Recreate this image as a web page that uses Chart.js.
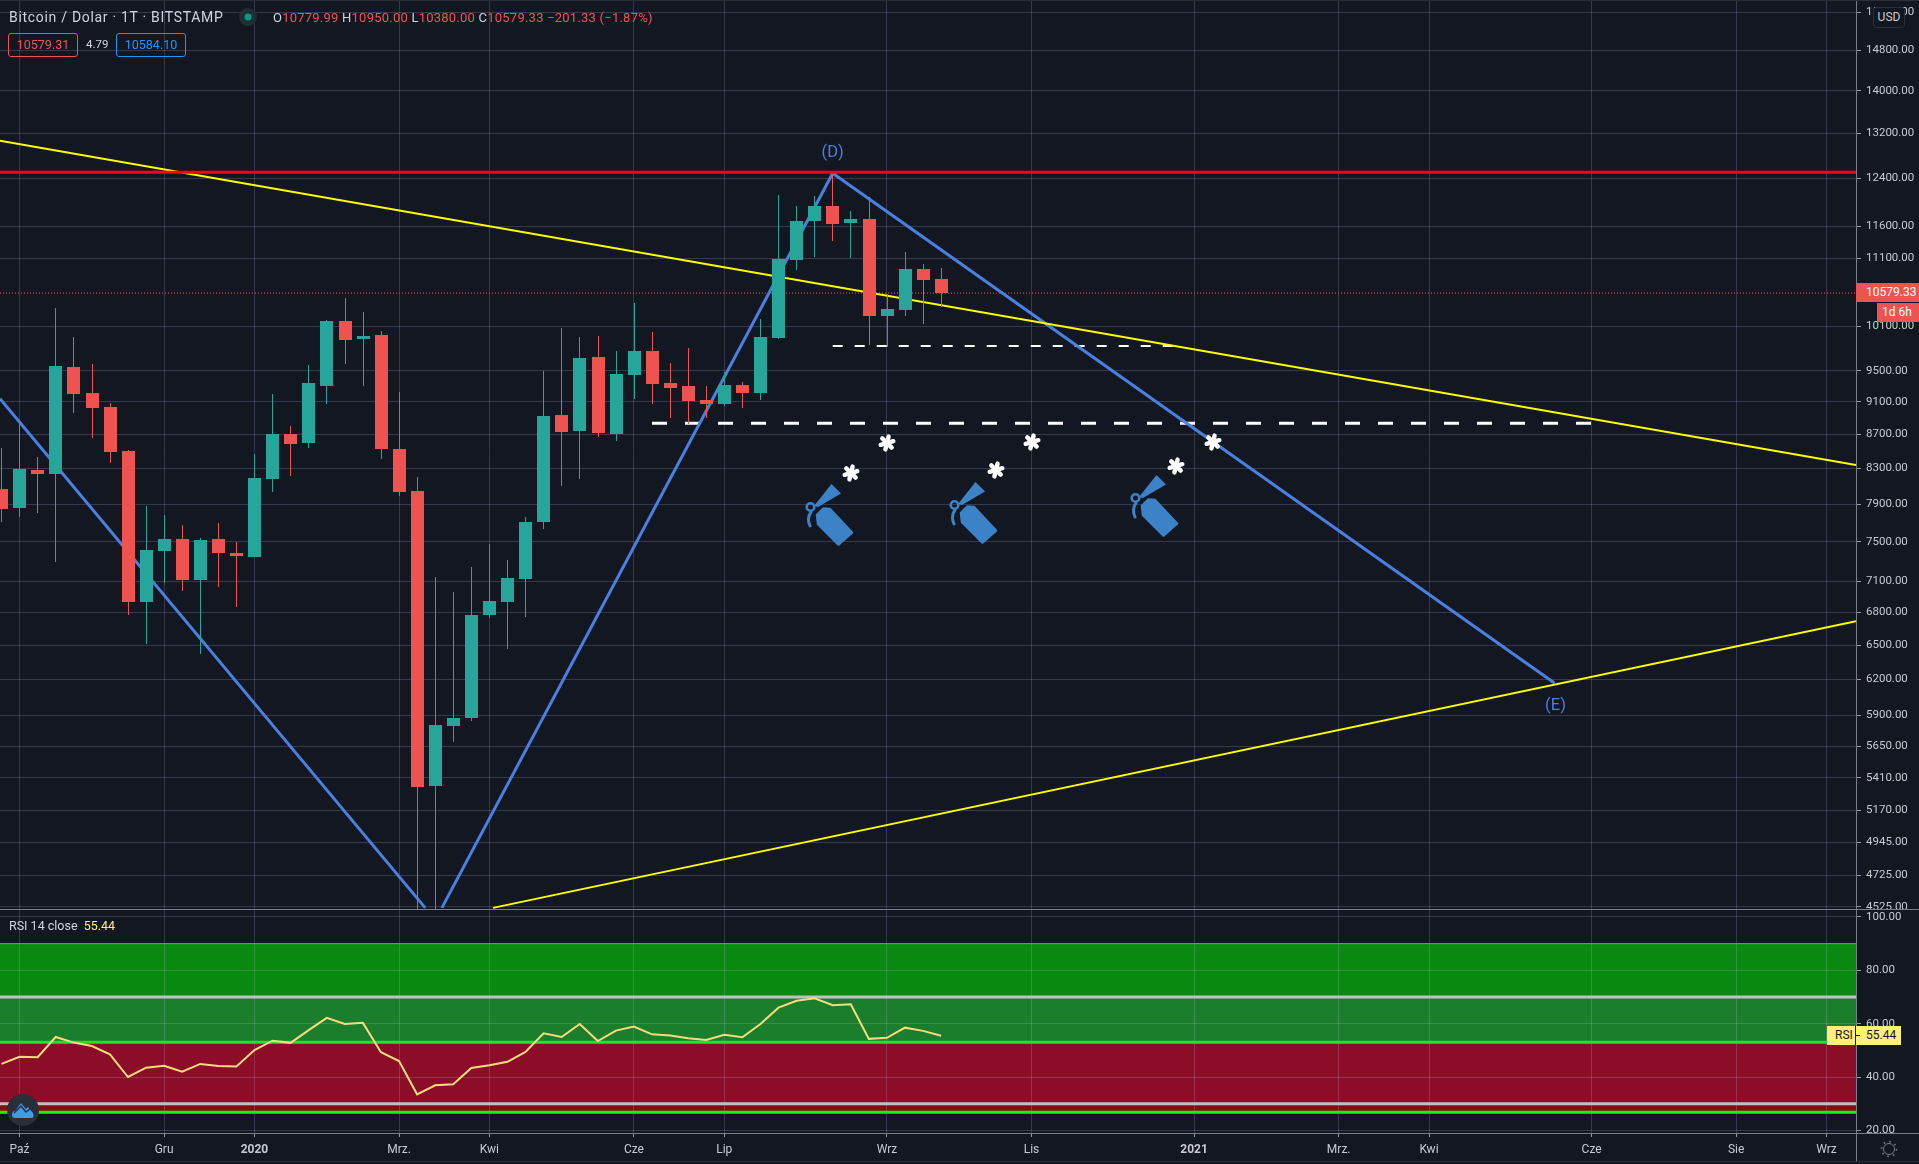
<!DOCTYPE html>
<html>
<head>
<meta charset="utf-8">
<title>Bitcoin / Dolar</title>
<script src="https://cdn.jsdelivr.net/npm/chart.js@4"></script>
<style>
  html, body { margin: 0; padding: 0; background: #131722; overflow: hidden; }
  body { width: 1919px; height: 1164px; position: relative; font-family: Roboto, sans-serif; }
  #priceBox { position: absolute; left: 0; top: 0; width: 1919px; height: 909px; }
  #rsiBox { position: absolute; left: 0; top: 909px; width: 1919px; height: 255px; }
  .o { position: absolute; white-space: nowrap; line-height: 1; }
  .sep { position: absolute; left: 0; width: 1919px; height: 1px; background: #7b7e88; }
  .r { color: #ef5350; }
  .g { color: #d1d4dc; }
</style>
</head>
<body>
<div id="priceBox"><canvas id="priceChart"></canvas></div>
<div id="rsiBox"><canvas id="rsiChart"></canvas></div>

<div class="o" style="left:1857px;top:1134px;width:62px;height:27px;background:#131722"></div>
<div class="sep" style="top:909px"></div>
<div class="sep" style="top:1133px"></div>
<div class="o" style="left:1856px;top:1133px;width:1px;height:28px;background:#7b7e88"></div>
<div class="sep" style="top:1161px;background:#2a2e39"></div>
<div class="sep" style="top:0;background:#2a2e39"></div>

<div class="o g" style="left:9px;top:10px;font-size:14px;letter-spacing:0.7px">Bitcoin / Dolar · 1T · BITSTAMP</div>
<svg class="o" style="left:238px;top:7px" width="20" height="20"><circle cx="10" cy="10" r="9" fill="#1c2f33"/><circle cx="10" cy="10" r="3.5" fill="#089981"/></svg>
<div class="o g" style="left:273px;top:11px;font-size:13px;letter-spacing:0.23px">O<span class="r">10779.99</span> H<span class="r">10950.00</span> L<span class="r">10380.00</span> C<span class="r">10579.33 −201.33 (−1.87%)</span></div>
<div class="o r" style="left:8px;top:33px;width:68px;height:22px;border:1px solid #ef5350;border-radius:3px;font-size:12.5px;line-height:22px;text-align:center">10579.31</div>
<div class="o g" style="left:86px;top:39px;font-size:11.5px">4.79</div>
<div class="o" style="left:116px;top:33px;width:68px;height:22px;border:1px solid #2196f3;border-radius:3px;font-size:12.5px;line-height:22px;text-align:center;color:#2196f3">10584.10</div>
<div class="o g" style="left:9px;top:920px;font-size:12.5px">RSI 14 close <span style="color:#fff176;margin-left:3px">55.44</span></div>

<div class="o" style="left:1873px;top:7px;width:30px;height:19px;background:#131722;border:1px solid #2a2e39;border-radius:3px;color:#c8cad0;font-size:12px;line-height:19px;text-align:center">USD</div>
<div class="o" style="left:1856px;top:283px;width:63px;height:19px;background:#ef5350;color:#fff;font-size:12px;line-height:19px;text-indent:10px">10579.33</div>
<div class="o" style="left:1877px;top:303px;width:42px;height:19px;background:#ef5350;color:#fff;font-size:12px;line-height:19px;text-indent:5px">1d 6h</div>
<div class="o" style="left:1827px;top:1026px;width:28px;height:19px;background:#fff176;color:#131722;font-size:12px;line-height:19px;text-indent:8px">RSI</div>
<div class="o" style="left:1855px;top:1026px;width:1px;height:19px;background:#131722"></div>
<div class="o" style="left:1856px;top:1026px;width:45px;height:19px;background:#fff176;color:#131722;font-size:12px;line-height:19px;text-indent:10px">55.44</div>
<div class="o" style="left:1856px;top:1035px;width:4px;height:1px;background:#131722"></div>

<svg width="0" height="0" style="position:absolute">
  <symbol id="ext" viewBox="0 0 50 64">
    <path d="M12 31 L18.5 24.5 L25 25 L47 48.5 L33.5 60.5 L13 40 Z" fill="#3b83c6" stroke="#3b83c6" stroke-width="2.5" stroke-linejoin="round"/>
    <path d="M9 22 L26.5 0 L36 9.5 L13 23 Z" fill="#3b83c6"/>
    <circle cx="5.5" cy="23" r="3.8" fill="none" stroke="#3b83c6" stroke-width="2.6"/>
    <path d="M6 28 Q1.5 34 5 42" fill="none" stroke="#3b83c6" stroke-width="3" stroke-linecap="round"/>
  </symbol>
  <symbol id="star" viewBox="-10 -10 20 20">
    <g stroke="#fff" stroke-width="4.4" stroke-linecap="round" transform="rotate(14)">
      <line x1="0" y1="-6.6" x2="0" y2="6.6"/>
      <line x1="-5.7" y1="-3.3" x2="5.7" y2="3.3"/>
      <line x1="-5.7" y1="3.3" x2="5.7" y2="-3.3"/>
    </g>
  </symbol>
</svg>
<svg class="o" style="left:805px;top:484px" width="50" height="64"><use href="#ext"/></svg>
<svg class="o" style="left:949px;top:482px" width="50" height="64"><use href="#ext"/></svg>
<svg class="o" style="left:1130px;top:475px" width="50" height="64"><use href="#ext"/></svg>
<svg class="o" style="left:841px;top:463px" width="20" height="20"><use href="#star"/></svg>
<svg class="o" style="left:877px;top:433px" width="20" height="20"><use href="#star"/></svg>
<svg class="o" style="left:986px;top:460px" width="20" height="20"><use href="#star"/></svg>
<svg class="o" style="left:1022px;top:432px" width="20" height="20"><use href="#star"/></svg>
<svg class="o" style="left:1166px;top:456px" width="20" height="20"><use href="#star"/></svg>
<svg class="o" style="left:1203px;top:432px" width="20" height="20"><use href="#star"/></svg>

<svg class="o" style="left:7px;top:1094px" width="32" height="32">
  <circle cx="16" cy="16" r="16" fill="#2a2e39"/>
  <path d="M5 21 Q5 17 8 17 L14 9 L19 15 L21 13 L26 19 Q28 24 24 24 L8 24 Q5 24 5 21 Z" fill="#3a9de8"/>
  <path d="M7 19 L14 12 L19 18 L23 15" fill="none" stroke="#2a2e39" stroke-width="1.5"/>
</svg>
<svg class="o" style="left:1880px;top:1140px" width="18" height="18">
  <circle cx="9" cy="9" r="5.5" fill="none" stroke="#787b86" stroke-width="1"/>
  <circle cx="9" cy="9" r="7.5" fill="none" stroke="#787b86" stroke-width="1.6" stroke-dasharray="1.6 4.3"/>
</svg>

<script>
const opens = [8068, 7859, 8283, 8237, 9551, 9214, 9037, 8504, 6901, 7405, 7528, 7114, 7528, 7384, 7344, 8180, 8706, 8598, 9303, 10179, 9929, 9983, 8527, 8046, 5350, 5812, 5877, 6778, 6901, 7124, 7708, 8938, 8742, 9685, 8706, 9446, 9765, 9342, 9303, 9125, 9075, 9316, 9214, 9942, 11075, 11690, 11926, 11657, 11722, 10250, 10335, 10938, 10779.99];
const highs = [8539, 8839, 8433, 10364, 9956, 9591, 9087, 8515, 7880, 7783, 7676, 7539, 7697, 7497, 8468, 9201, 8803, 9578, 10193, 10508, 10306, 10039, 9226, 8203, 7143, 6997, 7243, 7477, 7313, 7761, 9499, 10081, 9956, 9970, 9765, 10435, 10025, 9604, 9806, 9303, 9486, 9355, 10207, 12118, 11926, 12101, 12470, 11853, 12084, 10567, 11199, 11014, 10950];
const lows = [7708, 7761, 7805, 7293, 8963, 8658, 8363, 6778, 6511, 7085, 7006, 6421, 7045, 6853, 7344, 8035, 8215, 8539, 9075, 9591, 9303, 8410, 7991, 3850, 4100, 5685, 5853, 6750, 6466, 6759, 7634, 8102, 8180, 8670, 8622, 9138, 9075, 8901, 8827, 8901, 9050, 9025, 9125, 9929, 10923, 11121, 11370, 11106, 9846, 9819, 10250, 10136, 10380];
const closes = [7848, 8295, 8237, 9565, 9201, 9025, 8492, 6901, 7415, 7528, 7114, 7518, 7384, 7354, 8192, 8706, 8586, 9342, 10179, 9915, 9970, 8527, 8035, 5342, 5820, 5877, 6778, 6911, 7133, 7708, 8925, 8730, 9671, 8718, 9459, 9765, 9330, 9278, 9112, 9075, 9316, 9214, 9956, 11091, 11690, 11926, 11641, 11722, 10250, 10349, 10938, 10773, 10579.33];
const rsiValues = [44.9, 47.6, 47.4, 55.0, 52.9, 51.6, 48.5, 40.0, 43.5, 44.2, 42.0, 44.9, 44.1, 43.9, 50.1, 53.6, 52.8, 57.6, 62.2, 59.9, 60.3, 49.3, 46.0, 33.5, 36.9, 37.3, 43.4, 44.4, 45.7, 49.4, 56.4, 55.0, 59.9, 53.5, 57.4, 58.9, 56.0, 55.6, 54.5, 53.9, 55.8, 54.9, 59.9, 66.0, 68.6, 69.5, 66.9, 67.3, 54.3, 54.7, 58.5, 57.3, 55.44];

const priceTicks = [15600, 14800, 14000, 13200, 12400, 11600, 11100, 10100, 9500, 9100, 8700, 8300, 7900, 7500, 7100, 6800, 6500, 6200, 5900, 5650, 5410, 5170, 4945, 4725, 4525];
const rsiTicks = [100, 80, 60, 40, 20];
const timeTicks = [1, 9, 14, 22, 27, 35, 40, 49, 57, 66, 74, 79, 88, 96, 101];
const timeLabels = ["Paź", "Gru", "2020", "Mrz.", "Kwi", "Cze", "Lip", "Wrz", "Lis", "2021", "Mrz.", "Kwi", "Cze", "Sie", "Wrz"];
const yearLabels = ["2020", "2021"];

// drawn lines, [start, end]
const upperTrendX = [-0.083, 102.63];
const upperTrendY = [13063, 8340];
const lowerTrendX = [27.2, 102.63];
const lowerTrendY = [4518, 6717];
const resistanceY = [12504, 12504];
const lastPriceY = [10579.33, 10579.33];
const waveAX = [-0.083, 23.45];
const waveAY = [9141, 4518];
const waveBX = [24.37, 46];
const waveBY = [4518, 12487];
const waveCX = [46, 85.94];
const waveCY = [12487, 6168];
const shortDashX = [46, 64.9];
const shortDashY = [9833, 9833];
const longDashX = [36, 88];
const longDashY = [8835, 8835];
const waveLabels = ["(D)", "(E)"];
const waveLabelX = [46, 86];
const waveLabelY = [12843, 5975];

const rsiBandTops = [90, 70, 53, 30];
const rsiBandBottoms = [70, 53, 30, 26.8];
const rsiBandColors = ["#0a8a10", "#1a7e2c", "#8b0d28", "#870b10"];

const xMin = -0.083;
const xMax = 102.63;
const xFull = [xMin, xMax];
const gridColor = "rgba(200, 205, 255, 0.19)";
const tickColor = "#c8cad0";
const upColor = "#26a69a";
const downColor = "#ef5350";

Chart.defaults.font.family = "Roboto, sans-serif";
Chart.defaults.animation = false;
Chart.defaults.responsive = false;

const toPoints = (xs, ys) => xs.map((x, i) => ({ x: x, y: ys[i] }));

const lineSet = (xs, ys, color, width, dash) => ({
  type: "line",
  data: toPoints(xs, ys),
  borderColor: color,
  borderWidth: width,
  borderDash: dash || [],
  pointRadius: 0,
  tension: 0,
  order: 5,
});

const candleColors = closes.map((c, i) => (c >= opens[i] ? upColor : downColor));
const candleIndex = closes.map((c, i) => i);

// keep candles on whole pixels, 1px wicks go blurry otherwise
const snapBars = {
  id: "snapBars",
  beforeDatasetsDraw(chart) {
    chart.getSortedVisibleDatasetMetas().forEach((meta) => {
      if (meta.type !== "bar") return;
      meta.data.forEach((el) => {
        el.x = Math.floor(el.x + 0.2) + 0.5;
        el.y = Math.round(el.y);
        el.base = Math.round(el.base);
      });
    });
  },
};

const waveText = {
  id: "waveText",
  afterDatasetsDraw(chart) {
    const ctx = chart.ctx;
    ctx.save();
    ctx.font = "16.5px Roboto, sans-serif";
    ctx.fillStyle = "#4a80e0";
    ctx.textAlign = "center";
    ctx.textBaseline = "middle";
    waveLabels.forEach((t, i) => {
      ctx.fillText(t, chart.scales.x.getPixelForValue(waveLabelX[i]), chart.scales.y.getPixelForValue(waveLabelY[i]));
    });
    ctx.restore();
  },
};

const rsiBands = {
  id: "rsiBands",
  beforeDraw(chart) {
    const ctx = chart.ctx;
    const { x, y } = chart.scales;
    ctx.save();
    rsiBandTops.forEach((top, i) => {
      const y0 = y.getPixelForValue(top);
      const y1 = y.getPixelForValue(rsiBandBottoms[i]);
      ctx.fillStyle = rsiBandColors[i];
      ctx.fillRect(x.left, y0, x.right - x.left, y1 - y0);
    });
    ctx.restore();
  },
};

const xAxis = (showLabels) => ({
  type: "linear",
  min: xMin,
  max: xMax,
  offset: false,
  afterBuildTicks: (scale) => {
    scale.ticks = timeTicks.map((v) => ({ value: v }));
  },
  afterFit: (scale) => {
    scale.height = showLabels ? 31 : 0;
    scale.paddingLeft = 0;
    scale.paddingRight = 0;
  },
  border: { display: false },
  grid: {
    color: gridColor,
    offset: false,
    drawTicks: showLabels,
    tickLength: 4,
    tickColor: "#9598a1",
  },
  ticks: {
    display: showLabels,
    autoSkip: false,
    maxRotation: 0,
    padding: 6,
    color: tickColor,
    font: (c) => ({
      size: 12,
      weight: c.tick && yearLabels.includes(timeLabels[timeTicks.indexOf(c.tick.value)]) ? "bold" : "normal",
    }),
    callback: (value) => timeLabels[timeTicks.indexOf(value)],
  },
});

const yAxis = (type, min, max, values) => ({
  type: type,
  position: "right",
  min: min,
  max: max,
  bounds: "data",
  afterBuildTicks: (scale) => {
    scale.ticks = values.map((v) => ({ value: v }));
  },
  afterFit: (scale) => {
    scale.width = 63;
    scale.paddingTop = 0;
    scale.paddingBottom = 0;
  },
  border: { color: "#7b7e88" },
  grid: { color: gridColor, tickLength: 5, tickColor: "#9598a1" },
  ticks: {
    autoSkip: false,
    padding: 5,
    color: tickColor,
    font: { size: 11.5 },
    callback: (value) => value.toFixed(2),
  },
});

const layoutOptions = {
  padding: 0,
};

function sizeCanvas(id, w, h) {
  const c = document.getElementById(id);
  c.width = w;
  c.height = h;
  c.style.width = w + "px";
  c.style.height = h + "px";
  return c;
}

new Chart(sizeCanvas("priceChart", 1919, 909), {
  type: "bar",
  data: {
    datasets: [
      lineSet(xFull, resistanceY, "#ff0000", 3),
      lineSet(upperTrendX, upperTrendY, "#ffff00", 2),
      lineSet(lowerTrendX, lowerTrendY, "#ffff00", 2),
      lineSet(waveAX, waveAY, "#4a80e0", 3),
      lineSet(waveBX, waveBY, "#4a80e0", 3),
      lineSet(waveCX, waveCY, "#4a80e0", 3),
      lineSet(xFull, lastPriceY, "#ef5350", 1, [1, 2]),
      lineSet(shortDashX, shortDashY, "#ffffff", 2, [10, 12]),
      lineSet(longDashX, longDashY, "#ffffff", 3, [15, 18]),
      {
        data: candleIndex.map((i) => ({ x: i, y: [lows[i], highs[i]] })),
        backgroundColor: candleColors,
        barThickness: 1,
        grouped: false,
        inflateAmount: 0,
        order: 2,
      },
      {
        data: candleIndex.map((i) => ({ x: i, y: [opens[i], closes[i]] })),
        backgroundColor: candleColors,
        barThickness: 13,
        grouped: false,
        inflateAmount: 0,
        order: 1,
      },
    ],
  },
  options: {
    events: [],
    layout: layoutOptions,
    plugins: { legend: { display: false }, tooltip: { enabled: false } },
    scales: {
      x: xAxis(false),
      y: yAxis("logarithmic", 4511, 15871, priceTicks),
    },
  },
  plugins: [snapBars, waveText],
});

new Chart(sizeCanvas("rsiChart", 1919, 255), {
  type: "line",
  data: {
    datasets: [
      lineSet(xFull, [90, 90], "#22dd22", 1),
      lineSet(xFull, [70, 70], "#c0c0c4", 3),
      lineSet(xFull, [53, 53], "#1fe61f", 3),
      lineSet(xFull, [30, 30], "#c0c0c4", 3),
      lineSet(xFull, [26.8, 26.8], "#00ff00", 3),
      {
        data: rsiValues.map((v, i) => ({ x: i, y: v })),
        borderColor: "#f7dc7e",
        borderWidth: 2,
        pointRadius: 0,
        tension: 0,
        order: 1,
      },
    ],
  },
  options: {
    events: [],
    layout: layoutOptions,
    plugins: { legend: { display: false }, tooltip: { enabled: false } },
    scales: {
      x: xAxis(true),
      y: yAxis("linear", 19, 103, rsiTicks),
    },
  },
  plugins: [rsiBands],
});
</script>
</body>
</html>
